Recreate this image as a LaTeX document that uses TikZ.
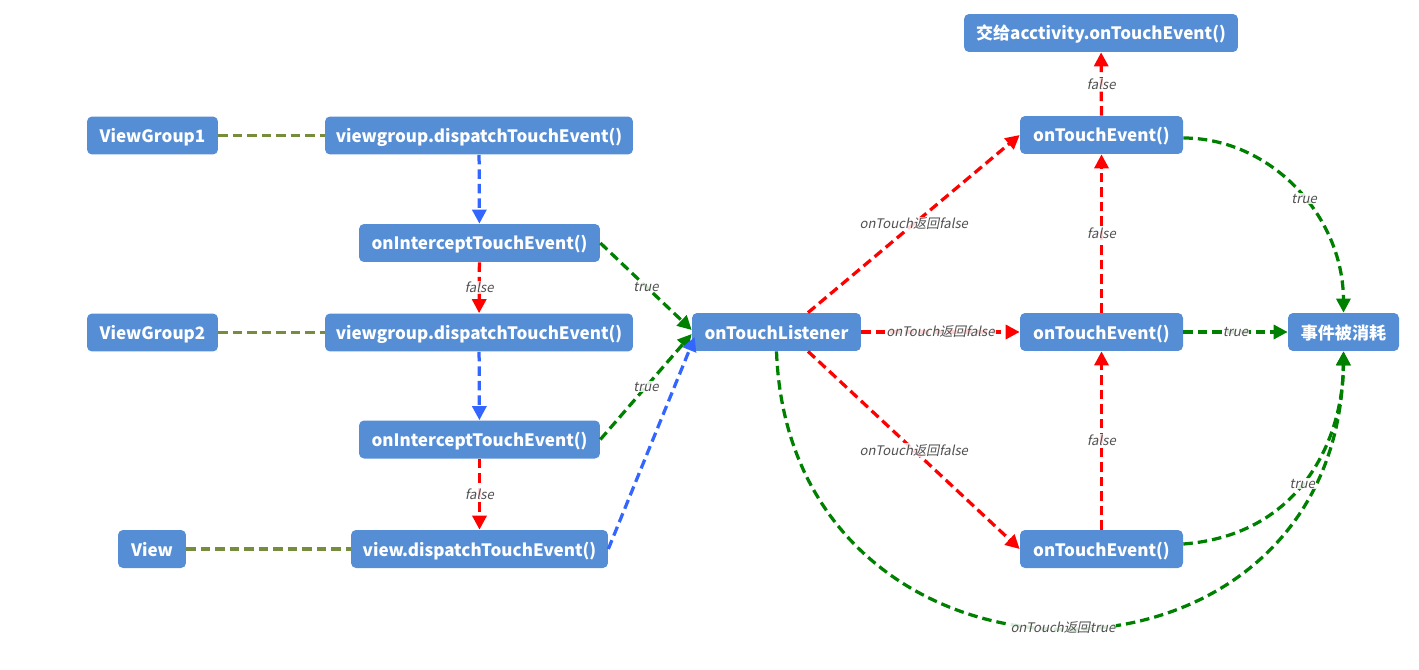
\documentclass[tikz,border=0pt]{standalone}
\usepackage{fontspec}
\setmainfont{Noto Sans CJK SC}[AutoFakeSlant=0.2]
\usetikzlibrary{arrows.meta}
\definecolor{boxblue}{RGB}{86,142,214}
\definecolor{olive}{RGB}{118,141,62}
\definecolor{flowblue}{RGB}{51,102,255}
\definecolor{flowred}{RGB}{255,0,0}
\definecolor{flowgreen}{RGB}{0,128,0}
\definecolor{labelgray}{RGB}{80,80,80}
\begin{document}
\begin{tikzpicture}[x=0.02cm,y=-0.02cm,
  box/.style={rectangle,rounded corners=0.1cm,fill=boxblue,text=white,
    font=\fontsize{9.7pt}{11pt}\selectfont\bfseries,
    text height=0.3cm,text depth=0.02cm,
    minimum height=0.76cm,inner sep=0pt},
  link/.style={line width=0.065cm,dash pattern=on 0.19cm off 0.1cm},
  tip/.style={-{Triangle[length=0.28cm,width=0.28cm]}},
  tie/.style={link,olive},
  call/.style={link,tip,flowblue},
  no/.style={link,tip,flowred},
  yes/.style={link,tip,flowgreen},
  lab/.style={font=\fontsize{7.5pt}{8pt}\selectfont\itshape,text=labelgray,
    fill=white,fill opacity=0.85,text opacity=1,inner sep=0.5pt}
]
\useasboundingbox (0,0) rectangle (1419,669);

% left column: view hierarchy
\node[box,minimum width=2.62cm] (vg1) at (152.5,135.5) {ViewGroup1};
\node[box,minimum width=2.62cm] (vg2) at (152.5,332.5) {ViewGroup2};
\node[box,minimum width=1.36cm] (v) at (152,549) {View};

% dispatch / intercept chain
\node[box,minimum width=6.16cm] (d1) at (479,135.5) {viewgroup.dispatchTouchEvent()};
\node[box,minimum width=4.82cm] (i1) at (479.5,243) {onInterceptTouchEvent()};
\node[box,minimum width=6.16cm] (d2) at (479,332.5) {viewgroup.dispatchTouchEvent()};
\node[box,minimum width=4.82cm] (i2) at (479.5,439.5) {onInterceptTouchEvent()};
\node[box,minimum width=5.14cm] (d3) at (479.5,549) {view.dispatchTouchEvent()};

% listener and onTouchEvent handlers
\node[box,minimum width=3.38cm] (otl) at (776.5,332) {onTouchListener};
\node[box,minimum width=5.48cm] (act) at (1101,33) {交给acctivity.onTouchEvent()};
\node[box,minimum width=3.26cm] (te1) at (1101.5,135) {onTouchEvent()};
\node[box,minimum width=3.26cm] (te2) at (1101.5,332) {onTouchEvent()};
\node[box,minimum width=3.26cm] (te3) at (1101.5,549) {onTouchEvent()};
\node[box,minimum width=2.22cm] (done) at (1343.5,332) {事件被消耗};

% ties between a view and its dispatch method
\draw[tie] (vg1) -- (d1);
\draw[tie] (vg2) -- (d2);
\draw[tie] (v) -- (d3);

% dispatch chain
\draw[call] (d1) -- (i1);
\draw[call] (d2) -- (i2);
\draw[no] (i1) -- node[lab]{false} (d2);
\draw[no] (i2) -- node[lab]{false} (d3);
\draw[yes] (i1.east) -- node[lab,pos=0.5]{true} ([yshift=0.04cm]otl.west);
\draw[yes] (i2.east) -- node[lab,pos=0.5]{true} ([yshift=-0.04cm]otl.west);
\draw[call] (d3.east) -- ([xshift=0.06cm,yshift=-0.1cm]otl.west);

% listener results
\draw[no] ([xshift=0.63cm]otl.north) -- node[lab]{onTouch返回false} (te1.west);
\draw[no] (otl) -- node[lab]{onTouch返回false} (te2);
\draw[no] ([xshift=0.63cm]otl.south) -- node[lab]{onTouch返回false} (te3.west);
\draw[yes] (otl.south) .. controls (790,720) and (1338,720) ..
  node[lab,pos=0.5]{onTouch返回true} (done.south);

% onTouchEvent results
\draw[no] (te1) -- node[lab]{false} (act);
\draw[no] (te2) -- node[lab]{false} (te1);
\draw[no] (te3) -- node[lab]{false} (te2);
\draw[yes] ([yshift=-0.06cm]te1.east) .. controls (1270,138) and (1343,215) ..
  node[lab,pos=0.55]{true} (done.north);
\draw[yes] (te2) -- node[lab]{true} (done);
\draw[yes] ([yshift=0.1cm]te3.east) .. controls (1300,535) and (1343,440) ..
  node[lab,pos=0.47]{true} (done.south);
\end{tikzpicture}
\end{document}
